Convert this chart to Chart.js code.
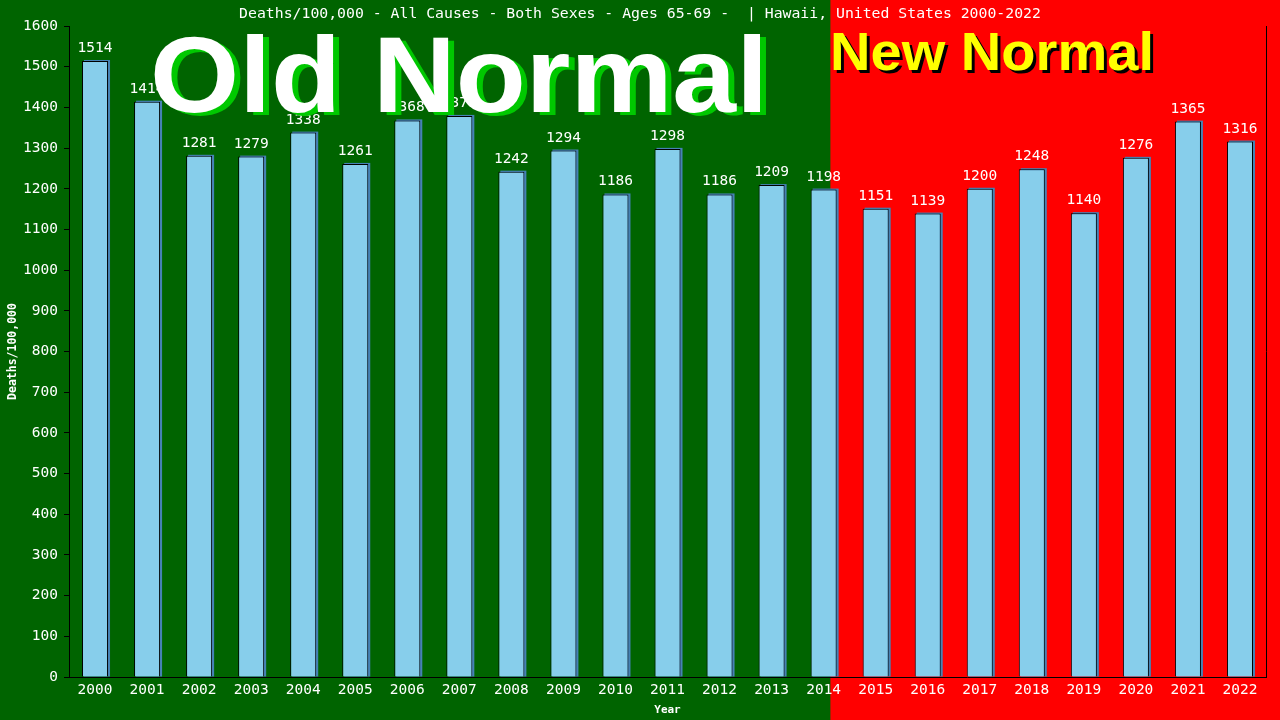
<!DOCTYPE html>
<html>
<head>
<meta charset="utf-8">
<script src="https://cdn.jsdelivr.net/npm/chart.js@4"></script>
<style>
  html, body { margin: 0; padding: 0; background: #006400; }
  #wrap { width: 1280px; height: 720px; }
</style>
</head>
<body>
<div id="wrap"><canvas id="chart" width="1280" height="720"></canvas></div>
<script>
const years = ["2000", "2001", "2002", "2003", "2004", "2005", "2006", "2007", "2008", "2009", "2010", "2011",
  "2012", "2013", "2014", "2015", "2016", "2017", "2018", "2019", "2020", "2021", "2022"];
const deaths = [1514, 1414, 1281, 1279, 1338, 1261, 1368, 1379, 1242, 1294, 1186, 1298,
  1186, 1209, 1198, 1151, 1139, 1200, 1248, 1140, 1276, 1365, 1316];
const titleText = "Deaths/100,000 - All Causes - Both Sexes - Ages 65-69 -  | Hawaii, United States 2000-2022";
const splitAt = 14.13; // where the "new normal" background starts, in category units

const mono = "'DejaVu Sans Mono', monospace";

// red/green halves behind everything
const backdrop = {
  id: "backdrop",
  beforeDraw(chart) {
    const { ctx, width, height } = chart;
    const x = chart.scales.x.getPixelForValue(splitAt);
    ctx.save();
    ctx.fillStyle = "#006400";
    ctx.fillRect(0, 0, x, height);
    ctx.fillStyle = "#ff0000";
    ctx.fillRect(x, 0, width - x, height);
    ctx.restore();
  }
};

// steelblue shadow behind each bar
const barShadow = {
  id: "barShadow",
  beforeDatasetsDraw(chart) {
    const { ctx } = chart;
    ctx.save();
    ctx.fillStyle = "#4682b4";
    chart.getDatasetMeta(0).data.forEach((bar) => {
      const w = bar.width;
      ctx.fillRect(bar.x - w / 2 + 2, bar.y - 1, w, bar.base - bar.y + 1);
    });
    ctx.restore();
  }
};

const overlay = {
  id: "overlay",
  afterDraw(chart) {
    const { ctx, chartArea } = chart;
    ctx.save();

    // right frame line
    ctx.strokeStyle = "#000";
    ctx.lineWidth = 1;
    ctx.beginPath();
    ctx.moveTo(Math.round(chartArea.right) + 0.5, chartArea.top);
    ctx.lineTo(Math.round(chartArea.right) + 0.5, chartArea.bottom);
    ctx.stroke();

    // value labels
    ctx.fillStyle = "#fff";
    ctx.font = "14.5px " + mono;
    ctx.textAlign = "center";
    ctx.textBaseline = "alphabetic";
    chart.getDatasetMeta(0).data.forEach((bar, i) => {
      ctx.fillText(String(deaths[i]), bar.x, bar.y - 9);
    });

    // title
    ctx.font = "14.8px " + mono;
    ctx.fillText(titleText, 640, 18);

    // big captions
    const bigText = (txt, x, baseline, size, width, fg, shadow, dx, dy) => {
      ctx.font = "bold " + size + "px 'Liberation Sans', Arial, sans-serif";
      ctx.textAlign = "left";
      const k = width / ctx.measureText(txt).width;
      ctx.save();
      ctx.translate(x, baseline);
      ctx.scale(k, 1);
      ctx.fillStyle = shadow;
      ctx.fillText(txt, dx / k, dy);
      ctx.fillStyle = fg;
      ctx.fillText(txt, 0, 0);
      ctx.restore();
    };
    bigText("Old Normal", 150, 112, 108, 618, "#ffffff", "#00c800", 6, 3);
    bigText("New Normal", 830, 70, 53, 324, "#ffff00", "#000000", 3, 3);

    ctx.restore();
  }
};

new Chart(document.getElementById("chart"), {
  type: "bar",
  data: {
    labels: years,
    datasets: [{
      data: deaths,
      backgroundColor: "#87ceeb",
      borderColor: "#000000",
      borderWidth: 1,
      categoryPercentage: 1,
      barPercentage: 0.5
    }]
  },
  options: {
    responsive: false,
    animation: false,
    events: [],
    layout: { padding: { top: 26, right: 14, left: 0, bottom: 0 } },
    plugins: {
      legend: { display: false },
      title: { display: false },
      tooltip: { enabled: false }
    },
    scales: {
      x: {
        grid: { display: false, drawTicks: false },
        border: { display: true, color: "#000", width: 1 },
        ticks: { color: "#fff", font: { family: mono, size: 14.5 }, padding: 5, maxRotation: 0, autoSkip: false },
        title: { display: true, text: "Year", color: "#fff", font: { family: mono, size: 11, weight: "bold" }, padding: { top: 0, bottom: 3 } },
        afterFit: (s) => { s.height = 43; }
      },
      y: {
        min: 0,
        max: 1600,
        grid: { drawOnChartArea: false, drawTicks: true, tickLength: 5, color: "#000" },
        border: { display: true, color: "#000", width: 1 },
        ticks: { stepSize: 100, color: "#fff", font: { family: mono, size: 14.5 }, padding: 6, callback: (v) => String(v) },
        title: { display: true, text: "Deaths/100,000", color: "#fff", font: { family: mono, size: 11.5, weight: "bold" }, padding: { top: 6, bottom: 0 } },
        afterFit: (s) => { s.width = 69; }
      }
    }
  },
  plugins: [backdrop, barShadow, overlay]
});
</script>
</body>
</html>
